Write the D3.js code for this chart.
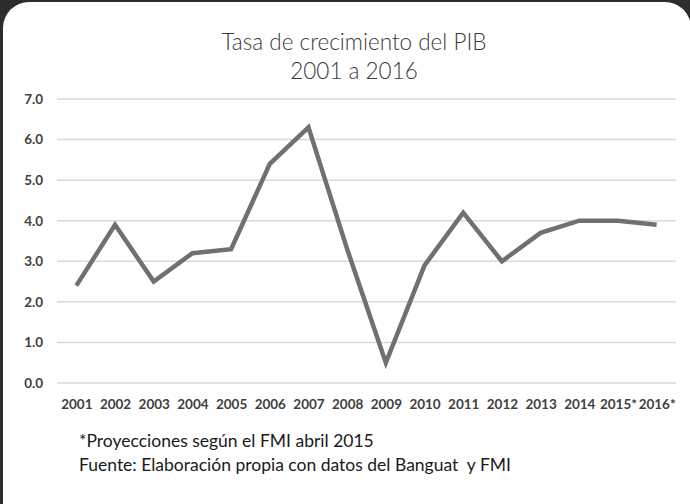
<!DOCTYPE html>
<html>
<head>
<meta charset="utf-8">
<script src="https://cdn.jsdelivr.net/npm/d3@7"></script>
<style>
  html, body { margin: 0; padding: 0; background: #2e2c2d; }
  svg { display: block; }
</style>
</head>
<body>
<div id="chart"></div>
<script>
// Chart data
const years = ["2001", "2002", "2003", "2004", "2005", "2006", "2007", "2008",
               "2009", "2010", "2011", "2012", "2013", "2014", "2015*", "2016*"];
const growth = [2.4, 3.9, 2.5, 3.2, 3.3, 5.4, 6.3, 3.3, 0.5, 2.9, 4.2, 3.0, 3.7, 4.0, 4.0, 3.9];
const yTicks = [0, 1, 2, 3, 4, 5, 6, 7];
const titleLines = ["Tasa de crecimiento del PIB", "2001 a 2016"];
const notes = ["*Proyecciones según el FMI abril 2015",
               "Fuente: Elaboración propia con datos del Banguat  y FMI"];

const width = 690, height = 504;
const margin = { top: 99, right: 14, bottom: 121, left: 57 };

const svg = d3.select("#chart")
    .append("svg")
    .attr("width", width)
    .attr("height", height);

// Dark frame + white card with rounded corners
svg.append("rect")
    .attr("width", width).attr("height", height)
    .attr("fill", "#2e2c2d");
svg.append("rect")
    .attr("x", 3).attr("y", 2)
    .attr("width", 688).attr("height", 540)
    .attr("rx", 26)
    .attr("fill", "#ffffff");

// Scales
const x = d3.scalePoint()
    .domain(years)
    .range([margin.left, width - margin.right])
    .padding(0.5);

const y = d3.scaleLinear()
    .domain([0, 7])
    .range([height - margin.bottom, margin.top]);

// Title
svg.append("g")
    .selectAll("text")
    .data(titleLines)
    .enter()
    .append("text")
    .attr("x", 354)
    .attr("y", (d, i) => 50 + i * 29)
    .attr("text-anchor", "middle")
    .attr("font-family", "Lato, 'Open Sans', sans-serif")
    .attr("font-weight", 300)
    .attr("font-size", "22.5px")
    .attr("fill", "#3a3a3a")
    .text(d => d);

// Gridlines
svg.append("g")
    .selectAll("line")
    .data(yTicks)
    .enter()
    .append("line")
    .attr("x1", margin.left)
    .attr("x2", width - margin.right)
    .attr("y1", d => y(d))
    .attr("y2", d => y(d))
    .attr("stroke", "#d9d9d9")
    .attr("stroke-width", 1.5);

// Y axis labels
const yAxis = d3.axisLeft(y)
    .tickValues(yTicks)
    .tickFormat(d3.format(".1f"))
    .tickSize(0)
    .tickPadding(14);

svg.append("g")
    .attr("transform", `translate(${margin.left},0)`)
    .call(yAxis)
    .call(g => g.select(".domain").remove())
    .selectAll("text")
    .attr("font-family", "Lato, 'Open Sans', sans-serif")
    .attr("font-weight", 700)
    .attr("font-size", "13.5px")
    .attr("fill", "#404040");

// X axis labels
const xAxis = d3.axisBottom(x)
    .tickSize(0)
    .tickPadding(16);

svg.append("g")
    .attr("transform", `translate(0,${y(0)})`)
    .call(xAxis)
    .call(g => g.select(".domain").remove())
    .selectAll("text")
    .attr("font-family", "Lato, 'Open Sans', sans-serif")
    .attr("font-weight", 700)
    .attr("font-size", "13.5px")
    .attr("fill", "#404040");

// Line
const line = d3.line()
    .x((d, i) => x(years[i]))
    .y(d => y(d));

svg.append("path")
    .datum(growth)
    .attr("d", line)
    .attr("fill", "none")
    .attr("stroke", "#707070")
    .attr("stroke-width", 4.5)
    .attr("stroke-linejoin", "miter");

// Notes (keep the double space from the original)
svg.append("g")
    .selectAll("text")
    .data(notes)
    .enter()
    .append("text")
    .attr("x", 79)
    .attr("y", (d, i) => 447 + i * 24)
    .style("white-space", "pre")
    .attr("font-family", "Lato, 'Open Sans', sans-serif")
    .attr("font-size", "17.5px")
    .attr("fill", "#1a1a1a")
    .text(d => d);
</script>
</body>
</html>
